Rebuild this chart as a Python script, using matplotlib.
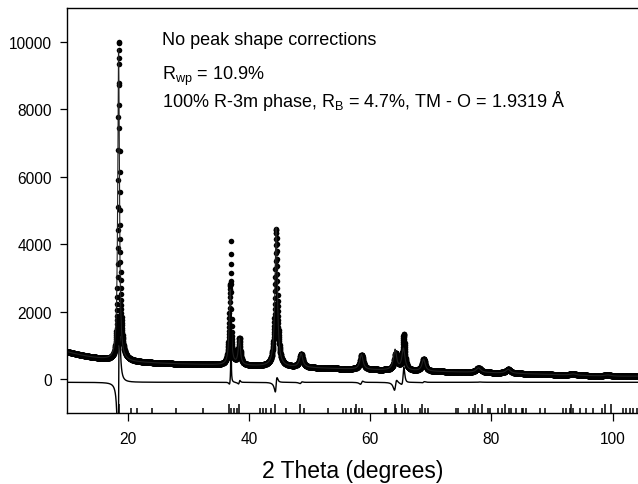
"""
Rietveld fit plot: observed points, calculated profile, difference curve and
Bragg reflection markers for an R-3m layered oxide.
"""
import matplotlib
matplotlib.use("Agg")
import matplotlib.pyplot as plt
import numpy as np

plt.rcParams["font.family"] = ["Liberation Sans", "DejaVu Sans"]
plt.rcParams["mathtext.fontset"] = "custom"
plt.rcParams["mathtext.rm"] = "Liberation Sans"

# --- background control points (2theta, counts)
bg_tth = [10, 12, 15, 17, 20.5, 25, 30, 35, 40, 42, 50, 52, 55, 62, 74, 80, 85, 90, 95, 100, 104]
bg_cnt = [840, 720, 600, 545, 560, 510, 455, 400, 390, 380, 335, 330, 315, 290, 210, 185, 165, 130, 120, 100, 85]

# --- observed reflections: position, height above background, left/right FWHM
obs_pos = [18.55, 36.93, 37.06, 38.45, 44.52, 48.65, 58.62, 64.25, 65.55, 68.85, 77.9, 82.8, 93.5, 99.2]
obs_int = [9470, 2200, 2150, 780, 4070, 390, 430, 500, 1060, 360, 140, 115, 40, 35]
obs_wl = [0.25, 0.38, 0.07, 0.40, 0.44, 0.60, 0.60, 0.60, 0.40, 0.60, 0.9, 0.9, 1.2, 1.2]
obs_wr = [0.36, 0.38, 0.07, 0.40, 0.46, 0.60, 0.60, 0.60, 0.45, 0.60, 0.9, 0.9, 1.2, 1.2]

# --- calculated reflections (refined model)
calc_pos = [18.51, 36.92, 38.43, 44.505, 48.62, 58.57, 64.12, 65.5, 68.83, 77.88, 82.78, 93.5, 99.2]
calc_int = [9270, 2220, 760, 4120, 400, 440, 600, 640, 350, 135, 115, 40, 35]
calc_w = [0.32, 0.38, 0.42, 0.46, 0.62, 0.62, 0.62, 0.60, 0.62, 0.9, 0.9, 1.2, 1.2]

diff_offset = -90

# --- Bragg reflection markers
bragg_major = [18.5, 36.7, 38.4, 44.3, 48.4, 57.75, 64.1, 65.2, 68.5, 77.3, 78.4, 82.2, 93.2, 98.7, 99.8]
bragg_minor = [20.55, 21.5, 24.1, 28.0, 32.5, 37.05, 37.6, 38.1, 41.8, 42.4, 42.9, 43.6,
               46.2, 49.1, 53.1, 55.6, 56.1, 56.9, 57.5, 58.2, 58.7, 62.4, 62.7, 64.35,
               65.7, 66.3, 68.2, 69.0, 69.6, 74.25, 74.5, 76.4, 77.0, 77.8, 79.5, 79.75,
               81.1, 81.7, 83.0, 83.3, 84.15, 85.0, 85.25, 85.8, 88.0, 88.8, 91.8, 92.4,
               92.95, 93.5, 94.6, 95.7, 96.8, 98.2, 101.7, 102.3, 102.85, 103.4, 104.0]


def profile(x, pos, height, wl, wr):
    y = np.zeros_like(x)
    for p, h, a, b in zip(pos, height, wl, wr):
        w = np.where(x < p, a, b)
        y += h / (1 + (2 * (x - p) / w) ** 2)
    return y


tth = np.arange(10, 104.4, 0.02)
bg = np.polynomial.Polynomial.fit(bg_tth, bg_cnt, 6)(tth)
obs = bg + profile(tth, obs_pos, obs_int, obs_wl, obs_wr)
calc = bg + profile(tth, calc_pos, calc_int, calc_w, calc_w)
diff = obs - calc + diff_offset

fig = plt.figure(figsize=(6.38, 4.85), dpi=100)
ax = fig.add_axes([67 / 638, 71 / 485, 571 / 638, 405 / 485])

ax.plot(tth, obs, "o", ms=4.0, mew=0, color="black")
ax.plot(tth, calc, color="#222222", lw=0.8)
ax.plot(tth, diff, color="black", lw=1.0)
ax.vlines(bragg_minor, -1000, -840, color="black", lw=1.1)
ax.vlines(bragg_major, -1000, -720, color="black", lw=1.1)

ax.set_xlim(10, 104.2)
ax.set_ylim(-1000, 11000)
ax.set_xticks([20, 40, 60, 80, 100])
ax.set_yticks([0, 2000, 4000, 6000, 8000, 10000])
ax.tick_params(axis="both", direction="out", labelsize=11.2, width=0.9)
ax.tick_params(axis="y", length=5, pad=6)
ax.tick_params(axis="x", length=6, pad=7)
ax.spines["right"].set_visible(False)
for s in ("left", "bottom", "top"):
    ax.spines[s].set_linewidth(1.0)

ax.set_xlabel("2 Theta (degrees)", fontsize=16.5, labelpad=9)

ax.text(0.166, 0.911, "No peak shape corrections", transform=ax.transAxes,
        fontsize=13, va="baseline")
ax.text(0.166, 0.825, r"R$_\mathregular{wp}$ = 10.9%", transform=ax.transAxes,
        fontsize=13, va="baseline")
ax.text(0.166, 0.757,
        r"100% R-3m phase, R$_\mathregular{B}$ = 4.7%, TM - O = 1.9319 Å",
        transform=ax.transAxes, fontsize=13, va="baseline")

fig.savefig("out.png", dpi=100)
